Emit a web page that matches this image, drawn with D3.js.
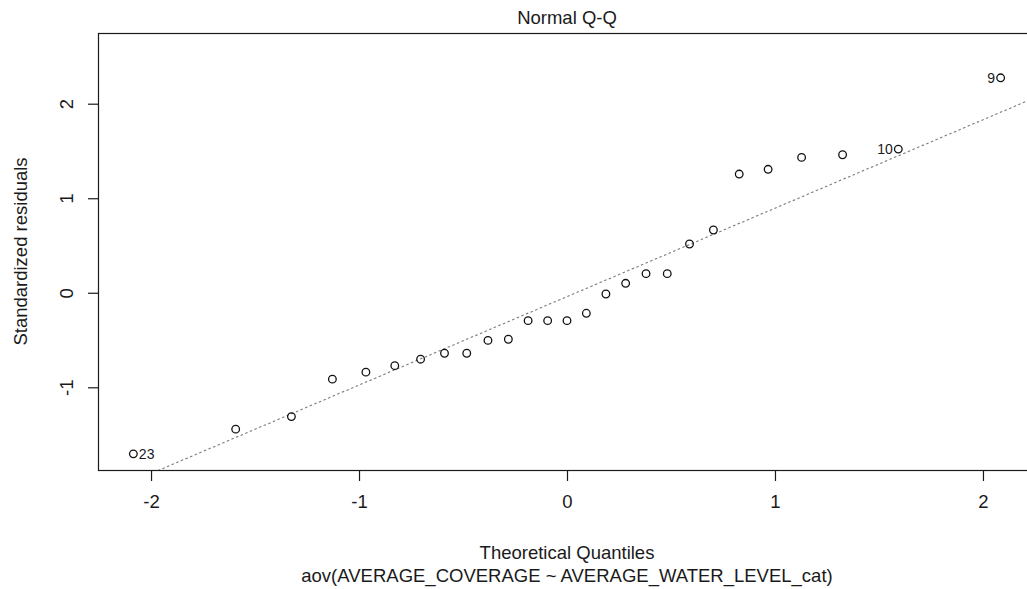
<!DOCTYPE html>
<html>
<head>
<meta charset="utf-8">
<script src="https://cdn.jsdelivr.net/npm/d3@7"></script>
<style>
  body { margin: 0; background: #fff; }
  svg text { font-family: "Liberation Sans", Arial, sans-serif; fill: #1a1a1a; }
</style>
</head>
<body>
<script>
// theoretical quantiles (x) and standardized residuals (y), sorted
const quantiles = [-2.085, -1.593, -1.325, -1.128, -0.967, -0.828, -0.704, -0.589, -0.482,
  -0.380, -0.282, -0.187, -0.093, 0, 0.093, 0.187, 0.282, 0.380, 0.482, 0.589, 0.704,
  0.828, 0.967, 1.128, 1.325, 1.593, 2.085];
const residuals = [-1.704, -1.443, -1.310, -0.914, -0.840, -0.771, -0.703, -0.640, -0.640,
  -0.504, -0.492, -0.295, -0.295, -0.295, -0.217, -0.013, 0.100, 0.202, 0.202, 0.516, 0.664,
  1.256, 1.306, 1.432, 1.460, 1.520, 2.274];
// labelled observations: index into the arrays above, and their label
const labelIdx = [0, 25, 26];
const labelText = ['23', '10', '9'];
const labelSide = ['right', 'left', 'left'];

const xTicks = [-2, -1, 0, 1, 2];
const yTicks = [-1, 0, 1, 2];

// qq reference line
const lineIntercept = -0.041;
const lineSlope = 0.9355;

const width = 1027, height = 589;
const plotLeft = 98, plotTop = 33, plotBottom = 470, plotRight = 1036;
const fontSize = '18.5px';

const svg = d3.select('body').append('svg')
  .attr('width', width)
  .attr('height', height);

const x = d3.scaleLinear().domain([-2.255, 2.255]).range([plotLeft, plotRight]);
const y = d3.scaleLinear().domain([-1.875, 2.748]).range([plotBottom, plotTop]);

const data = quantiles.map((q, i) => ({x: q, y: residuals[i]}));

svg.append('clipPath').attr('id', 'plotclip')
  .append('rect')
  .attr('x', plotLeft).attr('y', plotTop)
  .attr('width', plotRight - plotLeft).attr('height', plotBottom - plotTop);

// reference line
const x0 = x.domain()[0], x1 = x.domain()[1];
svg.append('line')
  .attr('clip-path', 'url(#plotclip)')
  .attr('x1', x(x0)).attr('y1', y(lineIntercept + lineSlope * x0))
  .attr('x2', x(x1)).attr('y2', y(lineIntercept + lineSlope * x1))
  .attr('stroke', '#7a7a7a')
  .attr('stroke-width', 1.1)
  .attr('stroke-dasharray', '2.5,2.5');

// points
svg.selectAll('circle.pt')
  .data(data)
  .enter()
  .append('circle')
  .attr('class', 'pt')
  .attr('cx', d => x(d.x))
  .attr('cy', d => y(d.y))
  .attr('r', 3.8)
  .attr('fill', 'none')
  .attr('stroke', '#111')
  .attr('stroke-width', 1.3);

// point labels
svg.selectAll('text.ptlab')
  .data(labelIdx)
  .enter()
  .append('text')
  .attr('class', 'ptlab')
  .attr('x', (d, i) => labelSide[i] === 'right' ? x(data[d].x) + 5.5 : x(data[d].x) - 5.5)
  .attr('y', d => y(data[d].y) + 5)
  .attr('text-anchor', (d, i) => labelSide[i] === 'right' ? 'start' : 'end')
  .style('font-size', '14px')
  .text((d, i) => labelText[i]);

// box
svg.append('rect')
  .attr('x', plotLeft + 0.5).attr('y', plotTop + 0.5)
  .attr('width', plotRight - plotLeft).attr('height', plotBottom - plotTop)
  .attr('fill', 'none')
  .attr('stroke', '#1a1a1a')
  .attr('stroke-width', 1.2);

// x axis
const xAxis = svg.append('g')
  .attr('transform', `translate(0,${plotBottom})`)
  .call(d3.axisBottom(x).tickValues(xTicks).tickSize(11).tickPadding(14).tickFormat(d => String(d)));
xAxis.select('.domain').remove();
xAxis.selectAll('line').attr('stroke', '#1a1a1a').attr('stroke-width', 1.2);
xAxis.selectAll('text').style('font-size', fontSize).attr('fill', '#1a1a1a');

// y axis, labels rotated like base R
const yAxis = svg.append('g')
  .attr('transform', `translate(${plotLeft},0)`)
  .call(d3.axisLeft(y).tickValues(yTicks).tickSize(10).tickFormat(''));
yAxis.select('.domain').remove();
yAxis.selectAll('line').attr('stroke', '#1a1a1a').attr('stroke-width', 1.2);
yAxis.selectAll('.tick')
  .append('text')
  .attr('transform', 'translate(-25,0) rotate(-90)')
  .attr('text-anchor', 'middle')
  .style('font-size', fontSize)
  .attr('fill', '#1a1a1a')
  .text(d => String(d));

// titles
svg.append('text')
  .attr('x', x(0)).attr('y', 24)
  .attr('text-anchor', 'middle')
  .style('font-size', fontSize)
  .text('Normal Q-Q');

svg.append('text')
  .attr('x', x(0)).attr('y', 559)
  .attr('text-anchor', 'middle')
  .style('font-size', fontSize)
  .text('Theoretical Quantiles');

svg.append('text')
  .attr('x', x(0)).attr('y', 582)
  .attr('text-anchor', 'middle')
  .style('font-size', fontSize)
  .text('aov(AVERAGE_COVERAGE ~ AVERAGE_WATER_LEVEL_cat)');

svg.append('text')
  .attr('transform', `translate(27,${(plotTop + plotBottom) / 2}) rotate(-90)`)
  .attr('text-anchor', 'middle')
  .style('font-size', fontSize)
  .text('Standardized residuals');
</script>
</body>
</html>
